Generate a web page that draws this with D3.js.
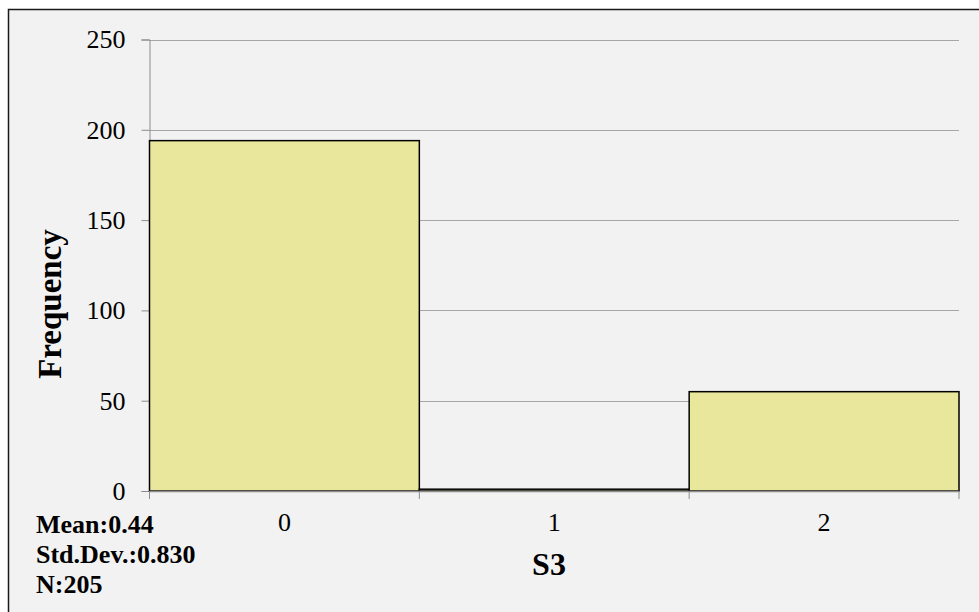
<!DOCTYPE html>
<html>
<head>
<meta charset="utf-8">
<script src="https://cdn.jsdelivr.net/npm/d3@7"></script>
<style>
  html, body { margin: 0; padding: 0; background: #ffffff; }
  svg { display: block; }
</style>
</head>
<body>
<svg id="chart" width="979" height="612"></svg>
<script>
// Histogram of S3
const categories = ["0", "1", "2"];
const frequencies = [194, 1, 55];
const yTicks = [0, 50, 100, 150, 200, 250];
const stats = ["Mean:0.44", "Std.Dev.:0.830", "N:205"];
const xTitle = "S3";
const yTitle = "Frequency";

const svg = d3.select("#chart");
const font = "'Liberation Serif', 'Times New Roman', serif";

// chart area background with top/left frame edge
svg.append("rect")
  .attr("x", 8.5).attr("y", 9.5)
  .attr("width", 1000).attr("height", 700)
  .attr("fill", "#f2f2f2").attr("stroke", "#1a1a1a").attr("stroke-width", 1.5);

const plot = { left: 149.5, right: 959, top: 39.5, bottom: 491 };

const x = d3.scaleBand().domain(categories)
  .range([plot.left, plot.right]).padding(0);
const y = d3.scaleLinear().domain([0, 250])
  .range([plot.bottom, plot.top]);

// gridlines
svg.append("g")
  .selectAll("line").data(yTicks.filter(d => d > 0)).join("line")
  .attr("x1", plot.left).attr("x2", plot.right)
  .attr("y1", d => Math.round(y(d)) + 0.5).attr("y2", d => Math.round(y(d)) + 0.5)
  .attr("stroke", "#a6a6a6").attr("stroke-width", 1);

// y axis
const yAxis = svg.append("g")
  .attr("transform", `translate(${plot.left},0)`)
  .call(d3.axisLeft(y).tickValues(yTicks).tickSize(8).tickPadding(16));
yAxis.select(".domain").attr("stroke", "#8c8c8c");
yAxis.selectAll(".tick line").attr("stroke", "#8c8c8c");
yAxis.selectAll(".tick text")
  .attr("font-family", font).attr("font-size", 26).attr("fill", "#000");

// bars
svg.append("g")
  .selectAll("rect").data(frequencies).join("rect")
  .attr("x", (d, i) => x(categories[i]))
  .attr("y", d => y(d))
  .attr("width", x.bandwidth())
  .attr("height", d => y(0) - y(d))
  .attr("fill", "#e9e79c")
  .attr("stroke", "#000").attr("stroke-width", 1.5);

// x axis: ticks at bin edges
const edges = categories.map(c => x(c)).concat([plot.right]);
const xg = svg.append("g");
xg.append("line")
  .attr("x1", plot.left).attr("x2", plot.right)
  .attr("y1", plot.bottom + 0.5).attr("y2", plot.bottom + 0.5)
  .attr("stroke", "#8c8c8c").attr("stroke-width", 1.5);
xg.selectAll("line.tick").data(edges).join("line")
  .attr("class", "tick")
  .attr("x1", d => d).attr("x2", d => d)
  .attr("y1", plot.bottom).attr("y2", plot.bottom + 8)
  .attr("stroke", "#8c8c8c");
xg.selectAll("text").data(categories).join("text")
  .attr("x", d => x(d) + x.bandwidth() / 2)
  .attr("y", 531)
  .attr("text-anchor", "middle")
  .attr("font-family", font).attr("font-size", 26)
  .text(d => d);

// axis titles
svg.append("text")
  .attr("x", 549).attr("y", 575)
  .attr("text-anchor", "middle")
  .attr("font-family", font).attr("font-size", 32).attr("font-weight", "bold")
  .text(xTitle);

svg.append("text")
  .attr("transform", "translate(61,304) rotate(-90)")
  .attr("text-anchor", "middle")
  .attr("font-family", font).attr("font-size", 33).attr("font-weight", "bold")
  .text(yTitle);

// summary statistics
svg.append("g")
  .selectAll("text").data(stats).join("text")
  .attr("x", 36)
  .attr("y", (d, i) => 533 + i * 30)
  .attr("font-family", font).attr("font-size", 26).attr("font-weight", "bold")
  .text(d => d);
</script>
</body>
</html>
